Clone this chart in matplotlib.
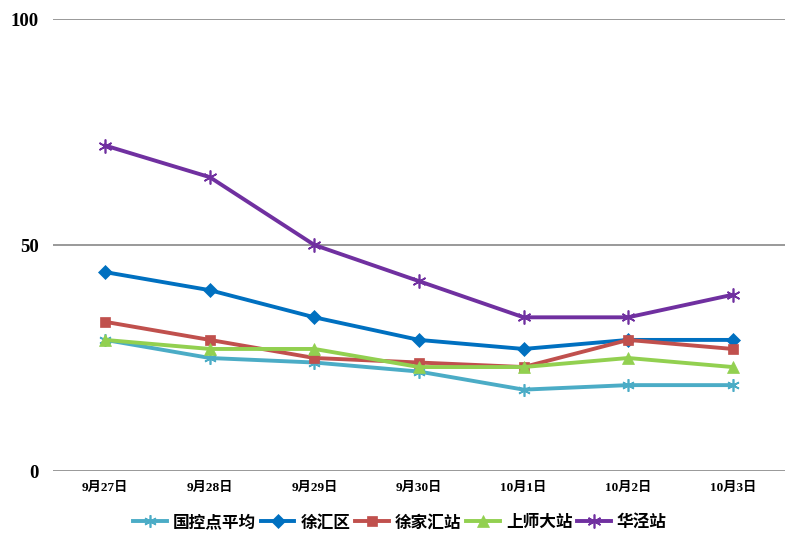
import numpy as np
import matplotlib
matplotlib.use('Agg')
from matplotlib import pyplot as plt

plt.rcParams['font.family'] = ['Liberation Serif', 'Noto Sans CJK SC', 'DejaVu Sans']

dates = ['9月27日', '9月28日', '9月29日', '9月30日', '10月1日', '10月2日', '10月3日']
names = ['国控点平均', '徐汇区', '徐家汇站', '上师大站', '华泾站']
guokong = [29, 25, 24, 22, 18, 19, 19]
xuhui = [44, 40, 34, 29, 27, 29, 29]
xujiahui = [33, 29, 25, 24, 23, 29, 27]
shangshi = [29, 27, 27, 23, 23, 25, 23]
huajing = [72, 65, 50, 42, 34, 34, 39]
yticks = [0, 50, 100]

series = [guokong, xuhui, xujiahui, shangshi, huajing]
colors = ['#4BACC6', '#0070C0', '#C0504D', '#92D050', '#7030A0']
markers = [(6, 2, 0), 'D', 's', '^', (6, 2, 0)]
msizes = [9, 7, 7, 9, 10]

fig = plt.figure(figsize=(8.04, 5.5), dpi=100)
ax = fig.add_axes([53/804, 79/550, 732/804, 452/550])

x = np.arange(len(dates))
for vals, c, m, ms, lab in zip(series, colors, markers, msizes, names):
    ax.plot(x, vals, color=c, lw=2.8, marker=m, markersize=ms,
            markeredgewidth=1.2 if isinstance(m, tuple) else 0.5,
            markeredgecolor=c, label=lab)

ax.set_xlim(-0.5, len(dates) - 0.5)
ax.set_ylim(0, 100)
ax.set_yticks(yticks)
ax.set_yticklabels([str(v) for v in yticks], fontsize=13.5, fontweight='bold')
ax.set_xticks(x)
ax.set_xticklabels(dates, fontsize=9.5, fontweight='bold')
for v in yticks:
    ax.axhline(v, color='#888888', lw=1.2, zorder=0)
for s in ax.spines.values():
    s.set_visible(False)
ax.tick_params(length=0)
ax.tick_params(axis='y', pad=10)
ax.tick_params(axis='x', pad=8)

leg = ax.legend(loc='upper center', bbox_to_anchor=(0.5 - 0.026, -0.06), ncol=5,
                frameon=False, handlelength=2.0, handletextpad=0.37,
                columnspacing=0.3, prop={'family': ['Noto Sans CJK SC', 'DejaVu Sans'],
                                         'weight': 'bold', 'size': 12})

fig.savefig('out.png', dpi=100)
